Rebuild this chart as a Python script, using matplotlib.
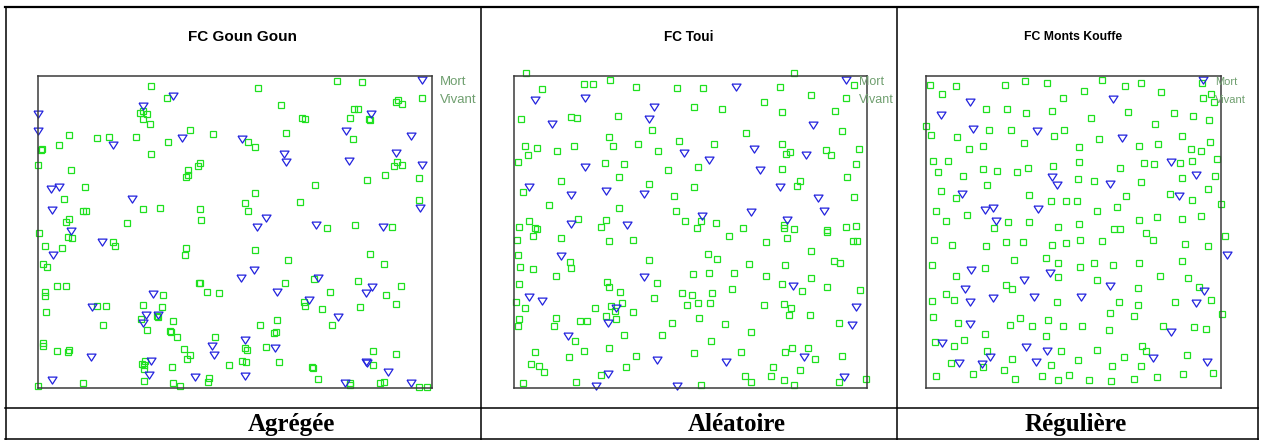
import numpy as np
import matplotlib
matplotlib.use("Agg")
import matplotlib.pyplot as plt
from matplotlib.lines import Line2D

# ---- Point patterns (x, y in plot units) ----------------------------------
goun_vivant = [
    (113, 302), (130, 290), (102, 275), (105, 277), (109, 274), (105, 269), (112, 264), (153, 258),
    (176, 254), (31, 253), (59, 250), (72, 251), (98, 251), (131, 246), (21, 243), (4, 239), (3, 238),
    (113, 234), (0, 223), (33, 218), (163, 225), (161, 222), (151, 218), (151, 213), (149, 211),
    (47, 201), (26, 189), (105, 179), (122, 180), (163, 179), (208, 185), (211, 177), (45, 177),
    (48, 177), (31, 169), (28, 166), (90, 165), (164, 168), (211, 246),
    (300, 307), (325, 306), (220, 300), (243, 283), (361, 288), (359, 286), (365, 284), (317, 279),
    (321, 279), (265, 270), (268, 269), (313, 270), (333, 268), (332, 269), (248, 255), (316, 249),
    (218, 241), (360, 226), (357, 222), (365, 223), (330, 208), (348, 213), (382, 210), (278, 203),
    (218, 195), (263, 186), (382, 188), (318, 163), (290, 160), (355, 161),
    (1, 155), (30, 151), (34, 150), (76, 146), (78, 142), (7, 142), (24, 140), (149, 140), (148, 133),
    (5, 124), (9, 121), (162, 105), (163, 105), (170, 96), (182, 95), (19, 102), (28, 102), (7, 96),
    (7, 92), (125, 93), (59, 82), (69, 82), (105, 83), (124, 81), (8, 76), (103, 69), (119, 72),
    (120, 71), (136, 67), (66, 63), (109, 58), (133, 57), (134, 56), (140, 51), (178, 51), (5, 45),
    (5, 42), (19, 37), (30, 36), (31, 38), (147, 39), (153, 33), (150, 29), (208, 40), (210, 38),
    (107, 27), (104, 24), (106, 23), (106, 19), (135, 21), (192, 23), (205, 27), (209, 26), (106, 7),
    (172, 10), (171, 6), (136, 5), (143, 2), (45, 5), (0, 2),
    (218, 138), (250, 128), (333, 134), (347, 124), (247, 105), (277, 109), (321, 107), (364, 102),
    (293, 96), (349, 93), (267, 86), (268, 82), (285, 79), (323, 81), (359, 84), (239, 68), (222, 63),
    (295, 63), (238, 56), (236, 55), (228, 41), (241, 26), (336, 37), (359, 34), (336, 23), (275, 21),
    (276, 20), (281, 9), (313, 5), (313, 3), (343, 5), (347, 6), (382, 1), (390, 1),
]
goun_mort = [
    (136, 292), (105, 282), (0, 274), (0, 257), (76, 243), (145, 250), (205, 249), (13, 199), (21, 201),
    (94, 189), (14, 178), (33, 157),
    (334, 274), (309, 257), (374, 252), (246, 234), (248, 226), (312, 227), (359, 235), (385, 223),
    (383, 180), (228, 170), (219, 161), (279, 163), (346, 161),
    (64, 146), (15, 133), (204, 110), (115, 94), (54, 81), (108, 73), (120, 73), (105, 65), (113, 27),
    (111, 13), (53, 31), (175, 42), (177, 33), (208, 48), (158, 11), (208, 12), (14, 8),
    (217, 118), (239, 96), (281, 110), (272, 88), (329, 95), (335, 101), (301, 71), (237, 40),
    (329, 26), (330, 25), (351, 16), (308, 5), (374, 5),
]

toui_vivant = [
    (12, 315), (70, 304), (79, 304), (96, 308), (28, 299), (122, 301), (163, 300), (180, 281), (7, 269),
    (57, 271), (63, 270), (104, 272), (138, 258), (95, 251), (11, 242), (23, 240), (60, 242), (99, 242),
    (124, 244), (165, 247), (43, 237), (14, 233), (144, 237), (4, 226), (91, 225), (110, 224), (154, 218),
    (105, 211), (47, 207), (135, 204), (180, 201), (9, 196), (160, 192), (35, 183), (105, 180), (162, 177),
    (15, 167), (64, 169), (92, 168), (171, 167), (87, 161), (5, 161), (21, 160), (23, 159),
    (280, 315), (189, 300), (266, 301), (297, 293), (340, 303), (208, 279), (250, 286), (268, 276),
    (321, 277), (232, 255), (328, 257), (200, 244), (268, 244), (272, 234), (276, 236), (312, 238),
    (317, 233), (345, 239), (184, 221), (268, 219), (342, 224), (333, 211), (286, 207), (283, 202),
    (340, 191), (187, 167), (202, 165), (229, 160), (270, 163), (270, 160), (280, 159), (183, 160),
    (313, 158), (332, 161), (342, 162),
    (19, 152), (47, 150), (3, 148), (95, 147), (119, 148), (4, 133), (56, 126), (57, 120), (6, 121),
    (19, 119), (135, 128), (42, 112), (179, 114), (5, 104), (93, 106), (95, 101), (143, 105), (106, 96),
    (140, 90), (168, 95), (178, 93), (2, 86), (11, 80), (81, 80), (97, 82), (108, 85), (173, 83), (5, 69),
    (42, 70), (92, 72), (102, 69), (119, 76), (101, 77), (4, 62), (40, 62), (66, 67), (73, 67), (158, 65),
    (110, 53), (148, 53), (61, 47), (95, 40), (70, 37), (21, 36), (180, 35), (122, 32), (55, 31), (17, 24),
    (25, 22), (30, 16), (112, 21), (87, 13), (62, 6), (9, 5),
    (313, 156), (215, 152), (252, 146), (273, 150), (339, 147), (343, 147), (297, 137), (194, 134),
    (203, 129), (235, 124), (271, 123), (320, 127), (326, 125), (195, 115), (220, 115), (252, 112),
    (297, 110), (268, 104), (313, 101), (218, 99), (288, 97), (346, 98), (198, 95), (184, 85), (196, 85),
    (250, 83), (270, 84), (277, 80), (275, 73), (296, 73), (185, 70), (211, 64), (325, 65), (237, 56),
    (197, 47), (227, 36), (271, 36), (278, 40), (294, 40), (301, 29), (328, 32), (259, 21), (286, 18),
    (231, 12), (237, 6), (257, 12), (270, 8), (280, 3), (187, 3), (325, 6), (352, 9),
]
toui_mort = [
    (21, 288), (71, 290), (140, 281), (135, 269), (38, 264), (170, 235), (71, 221), (15, 201), (57, 193),
    (92, 197), (130, 194), (57, 164), (113, 163),
    (222, 301), (299, 263), (240, 239), (195, 228), (292, 233), (246, 218), (266, 201), (304, 190),
    (237, 176), (310, 177), (188, 172), (273, 168),
    (47, 132), (130, 111), (15, 91), (28, 87), (102, 80), (94, 65), (54, 52), (143, 28), (94, 14), (82, 2),
    (163, 2),
    (279, 102), (342, 81), (338, 63), (212, 26), (290, 31), (330, 11),
]

kouffe_vivant = [
    (4, 303), (30, 302), (16, 294), (79, 303), (99, 307), (121, 305), (176, 308), (199, 302), (215, 305),
    (158, 297), (235, 296), (137, 290), (276, 305), (285, 294), (288, 286), (60, 279), (81, 279),
    (100, 275), (126, 277), (202, 276), (248, 275), (267, 272), (283, 268), (165, 270), (0, 262), (5, 253),
    (31, 251), (63, 258), (85, 258), (128, 252), (138, 258), (229, 264), (256, 252), (173, 249), (98, 245),
    (57, 242), (43, 239), (153, 241), (213, 242), (232, 244), (265, 239), (275, 237), (284, 246), (7, 227),
    (22, 227), (153, 226), (218, 225), (228, 224), (254, 225), (266, 227), (291, 229), (12, 216),
    (37, 212), (57, 219), (71, 217), (91, 216), (102, 220), (127, 222), (194, 220), (289, 212), (152, 209),
    (168, 207), (215, 206), (256, 210), (15, 197), (61, 203), (30, 190), (103, 193), (200, 192),
    (244, 194), (282, 199), (125, 187), (140, 187), (151, 187), (266, 188), (295, 184), (10, 177),
    (41, 173), (171, 177), (191, 181), (231, 171), (256, 169), (275, 172), (20, 167), (82, 166),
    (103, 166), (132, 161), (153, 164), (213, 168), (188, 159), (194, 159), (68, 160),
    (220, 155), (227, 148), (299, 152), (8, 148), (26, 143), (60, 142), (80, 146), (97, 146), (126, 143),
    (140, 145), (154, 148), (176, 147), (259, 144), (282, 142), (88, 128), (120, 130), (132, 125),
    (154, 121), (168, 125), (187, 123), (213, 125), (256, 127), (6, 123), (59, 120), (30, 112), (132, 111),
    (171, 108), (234, 112), (262, 110), (80, 103), (86, 99), (212, 100), (273, 101), (20, 94), (28, 88),
    (6, 87), (131, 86), (193, 86), (212, 83), (249, 86), (285, 88), (7, 71), (184, 75), (208, 72),
    (296, 74), (32, 65), (94, 70), (84, 63), (106, 62), (122, 68), (137, 62), (156, 62), (183, 58),
    (237, 62), (268, 61), (280, 59), (59, 54), (120, 52), (38, 48), (9, 46), (28, 42), (61, 37), (135, 37),
    (171, 38), (216, 42), (220, 37), (86, 29), (198, 31), (261, 33), (25, 25), (152, 28), (125, 23),
    (186, 22), (215, 22), (57, 21), (78, 18), (47, 14), (287, 15), (10, 12), (89, 9), (116, 12), (143, 13),
    (132, 8), (163, 8), (185, 7), (208, 9), (231, 11), (257, 14),
]
kouffe_mort = [
    (44, 286), (15, 273), (187, 289), (47, 259), (111, 257), (196, 250), (245, 226), (270, 213),
    (126, 211), (131, 203), (184, 204), (36, 194), (253, 192), (59, 178), (67, 180), (112, 179), (70, 167),
    (301, 133), (45, 118), (124, 115), (98, 108), (184, 102), (39, 99), (44, 86), (67, 90), (108, 91),
    (155, 91), (278, 97), (270, 85), (44, 64), (245, 56), (16, 45), (100, 41), (121, 37), (64, 31),
    (227, 30), (33, 25), (56, 24), (110, 26), (281, 26),
]

titles = ["FC Goun Goun", "FC Toui", "FC Monts Kouffe"]
patterns = ["Agrégée", "Aléatoire", "Régulière"]
status_labels = ["Mort", "Vivant"]
windows = [(394.5, 312.0), (352.5, 312.0), (294.7, 311.7)]   # observation window (width, height)

# ---- Style -------------------------------------------------------------
W, H = 1262, 440
GREEN = "#1fe01f"
BLUE = "#2222dd"
LEGEND_TXT = "#6f9f6f"
tri = [(-1.0, 0.75), (1.0, 0.75), (0.0, -0.8), (-1.0, 0.75)]

# axes frames in pixels: left, top, right, bottom
frames = [(37.5, 76, 432, 388), (514, 76, 866.5, 388), (926, 76, 1220.7, 387.7)]
title_cx = [242, 689, 1073]
title_fs = [11.0, 9.8, 8.8]
legend_dx = [(-10, 8), (-21, -8), (-18, -6)]   # marker / text offsets from right edge (px)
legend_fs = [9.5, 9.0, 8.0]
label_cx = [291, 737, 1076]

fig = plt.figure(figsize=(W / 100, H / 100), dpi=100)

series = [(goun_vivant, goun_mort), (toui_vivant, toui_mort), (kouffe_vivant, kouffe_mort)]

for i, ((viv, mort), (l, t, r, b)) in enumerate(zip(series, frames)):
    ax = fig.add_axes([l / W, 1 - b / H, (r - l) / W, (b - t) / H])
    wx, wy = windows[i]
    ax.set_xlim(0, wx)
    ax.set_ylim(0, wy)
    ax.set_xticks([])
    ax.set_yticks([])
    for s in ax.spines.values():
        s.set_linewidth(1.1)
        s.set_color("#3a3a3a")

    vx, vy = np.array(viv, dtype=float).T
    mx, my = np.array(mort, dtype=float).T
    ax.plot(vx, vy, ls="none", marker="s", ms=4.2, mfc="none", mec=GREEN, mew=0.9, clip_on=False)
    ax.plot(mx, my, ls="none", marker=tri, ms=6.5, mfc="none", mec=BLUE, mew=0.9, clip_on=False)

    # legend keys at the top right of the window
    w_px = r - l
    h_px = b - t
    mk_x = 1 + legend_dx[i][0] / w_px
    tx_x = 1 + legend_dx[i][1] / w_px
    rows = [1 - 4 / h_px, 1 - 22 / h_px]
    ax.plot([mk_x], [rows[0]], transform=ax.transAxes, ls="none", marker=tri, ms=6.5,
            mfc="none", mec=BLUE, mew=0.9, clip_on=False)
    ax.plot([mk_x], [rows[1]], transform=ax.transAxes, ls="none", marker="s", ms=4.2,
            mfc="none", mec=GREEN, mew=0.9, clip_on=False)
    for lab, yy in zip(status_labels, rows):
        ax.text(tx_x, yy - 2 / h_px, lab, transform=ax.transAxes, ha="left", va="center",
                fontsize=legend_fs[i], color=LEGEND_TXT, family="Liberation Sans")

    fig.text(title_cx[i] / W, 1 - 37 / H, titles[i], ha="center", va="center",
             fontsize=title_fs[i], fontweight="bold", family="Liberation Sans")
    fig.text(label_cx[i] / W, 1 - 424 / H, patterns[i], ha="center", va="center",
             fontsize=18, fontweight="bold", family="Liberation Serif")

# table rules
def hline(y, x0, x1, lw):
    fig.add_artist(Line2D([x0 / W, x1 / W], [1 - y / H, 1 - y / H], color="black", lw=lw))

def vline(x, y0, y1, lw):
    fig.add_artist(Line2D([x / W, x / W], [1 - y0 / H, 1 - y1 / H], color="black", lw=lw))

hline(7.5, 5, 1258, 1.6)
hline(407.5, 5, 1258, 1.1)
hline(439, 5, 1258, 1.1)
for xv in (5.5, 481, 897, 1257.5):
    vline(xv, 7, 440, 1.1)

fig.savefig("out.png", dpi=100)
